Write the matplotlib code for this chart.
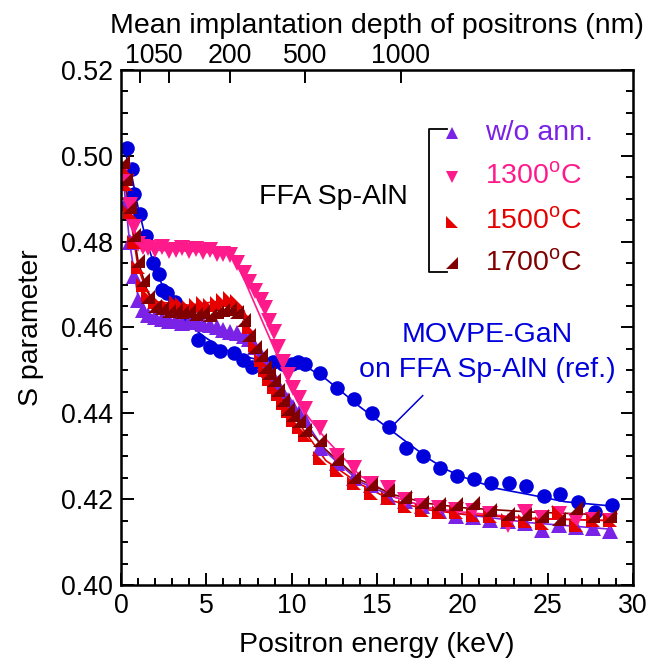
import numpy as np
import matplotlib
matplotlib.use('Agg')
import matplotlib.pyplot as plt

plt.rcParams['font.family'] = ['Liberation Sans', 'DejaVu Sans']
plt.rcParams['mathtext.fontset'] = 'custom'
plt.rcParams['mathtext.rm'] = 'Liberation Sans'

##### positron energies (keV) of the triangle series #####
e_tri = [0.1, 0.3, 0.5, 0.75, 1.0, 1.3, 1.6, 2.0, 2.4, 2.8, 3.2, 3.6, 4.0, 4.4, 4.8,
         5.2, 5.6, 6.0, 6.4, 6.8, 7.2, 7.5, 7.85, 8.2, 8.45, 8.7, 8.95, 9.2, 9.5, 9.8,
         10.1, 10.45, 10.8, 11.65, 12.65, 13.65, 14.65, 15.65, 16.65, 17.65, 18.65,
         19.65, 20.65, 21.65, 22.65, 23.65, 24.65, 25.65, 26.65, 27.65, 28.65]

s_woann = [0.4965, 0.489, 0.480, 0.472, 0.4665, 0.464, 0.463, 0.4625, 0.462, 0.4615,
           0.4618, 0.461, 0.4612, 0.4614, 0.4608, 0.4605, 0.460, 0.4594, 0.459, 0.4586,
           0.458, 0.4572, 0.4555, 0.4535, 0.452, 0.450, 0.4483, 0.4465, 0.4448, 0.4432,
           0.4415, 0.440, 0.4385, 0.432, 0.4285, 0.425, 0.4232, 0.4205, 0.4195, 0.4183,
           0.4172, 0.416, 0.4158, 0.4152, 0.4148, 0.4145, 0.4128, 0.414, 0.4135, 0.4132,
           0.4125]
s_1300 = [0.4965, 0.494, 0.4885, 0.4835, 0.4795, 0.4788, 0.4784, 0.478, 0.4788, 0.4777,
          0.478, 0.4785, 0.4777, 0.4782, 0.4776, 0.478, 0.4772, 0.477, 0.4768, 0.475,
          0.4727, 0.4705, 0.4684, 0.4664, 0.4645, 0.4615, 0.459, 0.4555, 0.452, 0.449,
          0.4458, 0.4435, 0.441, 0.4365, 0.430, 0.4272, 0.4235, 0.4226, 0.4198, 0.4183,
          0.418, 0.4175, 0.4172, 0.4165, 0.414, 0.4171, 0.4155, 0.4165, 0.415, 0.4152,
          0.415]
s_1500 = [0.4975, 0.4935, 0.487, 0.480, 0.474, 0.470, 0.4675, 0.466, 0.4652, 0.4648,
          0.466, 0.4655, 0.4648, 0.4652, 0.4656, 0.4652, 0.4658, 0.4665, 0.4668, 0.4662,
          0.4635, 0.460, 0.456, 0.4525, 0.450, 0.448, 0.4462, 0.4445, 0.4425, 0.4405,
          0.4385, 0.4368, 0.435, 0.4295, 0.4268, 0.4237, 0.4215, 0.4202, 0.4184, 0.4175,
          0.4171, 0.4171, 0.4163, 0.4161, 0.4152, 0.4148, 0.4144, 0.417, 0.414, 0.4152,
          0.4152]
s_1700 = [0.4985, 0.4945, 0.488, 0.4815, 0.4755, 0.471, 0.467, 0.465, 0.4645, 0.4638,
          0.464, 0.4635, 0.4638, 0.4632, 0.4636, 0.463, 0.4635, 0.464, 0.4643, 0.4637,
          0.4617, 0.4583, 0.4555, 0.4535, 0.4508, 0.4493, 0.4478, 0.4455, 0.443, 0.441,
          0.4396, 0.4381, 0.436, 0.4338, 0.4293, 0.4252, 0.4235, 0.4221, 0.4206, 0.4194,
          0.4188, 0.4189, 0.4192, 0.4175, 0.4166, 0.4166, 0.416, 0.4153, 0.4179, 0.416,
          0.4161]

##### MOVPE-GaN reference #####
e_gan = [0.33, 0.62, 0.78, 1.1, 1.46, 1.9, 2.2, 2.4, 2.7, 3.15, 3.5, 3.85, 4.5, 5.2, 5.8,
         6.6, 7.17, 7.65, 8.34, 8.93, 9.5, 10.0, 10.4, 10.8, 11.66, 12.64, 13.65, 14.68,
         15.68, 16.7, 17.7, 18.69, 19.7, 20.7, 21.7, 22.73, 23.75, 24.76, 25.75, 26.75,
         27.75, 28.77]
s_gan = [0.5017, 0.4969, 0.4911, 0.4864, 0.4812, 0.475, 0.4725, 0.4687, 0.468, 0.466,
         0.464, 0.4617, 0.457, 0.4555, 0.4544, 0.454, 0.4524, 0.4508, 0.4516, 0.452,
         0.4515, 0.4516, 0.452, 0.4516, 0.4495, 0.4458, 0.4433, 0.440, 0.4367, 0.4319,
         0.4301, 0.4272, 0.4253, 0.4246, 0.4237, 0.4237, 0.4231, 0.4207, 0.4211, 0.4193,
         0.4169, 0.4187]

##### fitted curves #####
fit_e_gan = [0.0, 0.3, 0.6, 1.0, 1.5, 2.0, 2.5, 3.0, 3.5, 4.0, 5.0, 6.0, 7.0, 8.0, 9.0,
             10.0, 11.0, 12.0, 13.0, 14.0, 15.0, 16.0, 17.0, 18.0, 19.0, 20.0, 22.0,
             24.0, 26.0, 28.75]
fit_s_gan = [0.503, 0.500, 0.496, 0.488, 0.480, 0.474, 0.469, 0.465, 0.4625, 0.4605,
             0.4575, 0.455, 0.4535, 0.4525, 0.452, 0.4515, 0.4505, 0.448, 0.4448, 0.4415,
             0.4385, 0.4355, 0.4325, 0.4295, 0.427, 0.4252, 0.4225, 0.421, 0.4194, 0.4184]
fit_e_woann = [0, 0.5, 1, 1.5, 2, 4, 6, 7, 8, 9, 10, 11, 12, 14, 16, 18, 20, 24, 28.7]
fit_s_woann = [0.500, 0.480, 0.467, 0.4635, 0.4625, 0.461, 0.4595, 0.458, 0.4545,
               0.4475, 0.4425, 0.437, 0.431, 0.424, 0.4205, 0.418, 0.4165, 0.4145, 0.413]
fit_e_1300 = [0, 0.5, 1, 2, 4, 6, 6.6, 10.3, 11, 12, 14, 16, 18, 20, 24, 28.7]
fit_s_1300 = [0.499, 0.488, 0.4795, 0.478, 0.4778, 0.4772, 0.4768, 0.443, 0.439, 0.434,
              0.4255, 0.4205, 0.418, 0.417, 0.4155, 0.415]
fit_e_anneal = [0, 0.5, 1, 1.5, 2, 4, 6.5, 7.2, 8, 9, 10, 11, 12, 14, 16, 18, 20, 24, 28.7]
fit_s_1500 = [0.499, 0.487, 0.474, 0.4685, 0.466, 0.4652, 0.4665, 0.464, 0.4535, 0.4465,
              0.440, 0.4345, 0.429, 0.4235, 0.4195, 0.4175, 0.4165, 0.4155, 0.415]
fit_s_1700 = [0.499, 0.488, 0.4755, 0.469, 0.465, 0.4635, 0.4642, 0.462, 0.454, 0.447,
              0.441, 0.436, 0.4315, 0.4245, 0.421, 0.419, 0.418, 0.417, 0.4163]

##### top axis: mean implantation depth #####
depth_labels = ['10', '50', '200', '500', '1000']
depth_kev = [1.1, 2.8, 6.4, 10.8, 16.4]

c_gan = '#0000DC'
c_wo = '#7A22E6'
c_1300 = '#FF1A8C'
c_1500 = '#E60000'
c_1700 = '#800000'
m_1500 = [(-1, 1), (-1, -1), (1, -1)]
m_1700 = [(1, 1), (1, -1), (-1, -1)]

fig = plt.figure(figsize=(6.64, 6.68), dpi=100)
ax = fig.add_axes([0.1822, 0.1243, 0.7711, 0.7710])

ax.plot(fit_e_gan, fit_s_gan, '-', color=c_gan, lw=1.2)
ax.plot(fit_e_woann, fit_s_woann, '-', color=c_wo, lw=1.2)
ax.plot(fit_e_1300, fit_s_1300, '-', color=c_1300, lw=1.2)
ax.plot(fit_e_anneal, fit_s_1500, '-', color=c_1500, lw=1.2)
ax.plot(fit_e_anneal, fit_s_1700, '-', color=c_1700, lw=1.2)

ax.plot(e_gan, s_gan, 'o', color=c_gan, ms=10.5, mew=0)
ax.plot(e_tri, s_woann, '^', color=c_wo, ms=11.5, mew=0)
ax.plot(e_tri, s_1300, 'v', color=c_1300, ms=11.5, mew=0)
ax.plot(e_tri, s_1500, marker=m_1500, ls='none', color=c_1500, ms=10.5, mew=0)
ax.plot(e_tri, s_1700, marker=m_1700, ls='none', color=c_1700, ms=10.5, mew=0)

ax.set_xlim(0, 30)
ax.set_ylim(0.40, 0.52)
ax.set_xticks(np.arange(0, 31, 5))
ax.set_xticks(np.arange(0, 31, 1), minor=True)
ax.set_yticks(np.arange(0.40, 0.521, 0.02))
ax.set_yticks(np.arange(0.40, 0.521, 0.005), minor=True)
ax.set_yticklabels(['%.2f' % v for v in np.arange(0.40, 0.521, 0.02)])
ax.tick_params(which='both', direction='in', top=False, right=True, width=1.4,
               labelsize=19.3, pad=6)
ax.tick_params(which='major', length=9)
ax.tick_params(which='minor', length=5)
for sp in ax.spines.values():
    sp.set_linewidth(1.8)
ax.set_xlabel('Positron energy (keV)', fontsize=20.5, labelpad=9)
ax.set_ylabel('S parameter', fontsize=20.5, labelpad=12)

ax2 = ax.twiny()
ax2.set_xlim(0, 30)
ax2.set_xticks(depth_kev)
ax2.set_xticklabels(depth_labels)
ax2.tick_params(direction='in', length=9, width=1.4, labelsize=19.3, pad=1)
ax2.set_xlabel('Mean implantation depth of positrons (nm)', fontsize=20.5, labelpad=7)

##### legend drawn by hand: bracket, markers, coloured labels #####
tr = ax.transAxes
ax.text((333 - 121) / 512, (585 - 197) / 515, 'FFA Sp-AlN', fontsize=20.5,
        ha='center', va='center', transform=tr)
bx = [(446.7 - 121) / 512, (429.3 - 121) / 512, (429.3 - 121) / 512, (446.7 - 121) / 512]
by = [(585 - 129.3) / 515, (585 - 129.3) / 515, (585 - 272.3) / 515, (585 - 272.3) / 515]
ax.plot(bx, by, '-', color='k', lw=1.3, transform=tr, clip_on=False)

leg_names = ['w/o ann.', r'1300$^{\mathrm{o}}$C', r'1500$^{\mathrm{o}}$C', r'1700$^{\mathrm{o}}$C']
leg_colors = [c_wo, c_1300, c_1500, c_1700]
leg_markers = ['^', 'v', m_1500, m_1700]
leg_y = [133.3, 176.7, 221.7, 263.3]
for name, col, mk, yy in zip(leg_names, leg_colors, leg_markers, leg_y):
    fy = (585 - yy) / 515
    ax.plot([(452 - 121) / 512], [fy], marker=mk, ls='none', color=col, ms=9, mew=0,
            transform=tr, clip_on=False)
    ax.text((485 - 121) / 512, fy, name, color=col, fontsize=20.5, ha='left',
            va='center', transform=tr)

ax.text((487 - 121) / 512, (585 - 335) / 515, 'MOVPE-GaN', color=c_gan, fontsize=20.5,
        ha='center', va='center', transform=tr)
ax.text((487 - 121) / 512, (585 - 370) / 515, 'on FFA Sp-AlN (ref.)', color=c_gan,
        fontsize=20.5, ha='center', va='center', transform=tr)
ax.plot([(422.7 - 121) / 512, (391.7 - 121) / 512],
        [(585 - 395.7) / 515, (585 - 426.7) / 515], '-', color=c_gan, lw=1.1, transform=tr)

fig.savefig('out.png', dpi=100)
